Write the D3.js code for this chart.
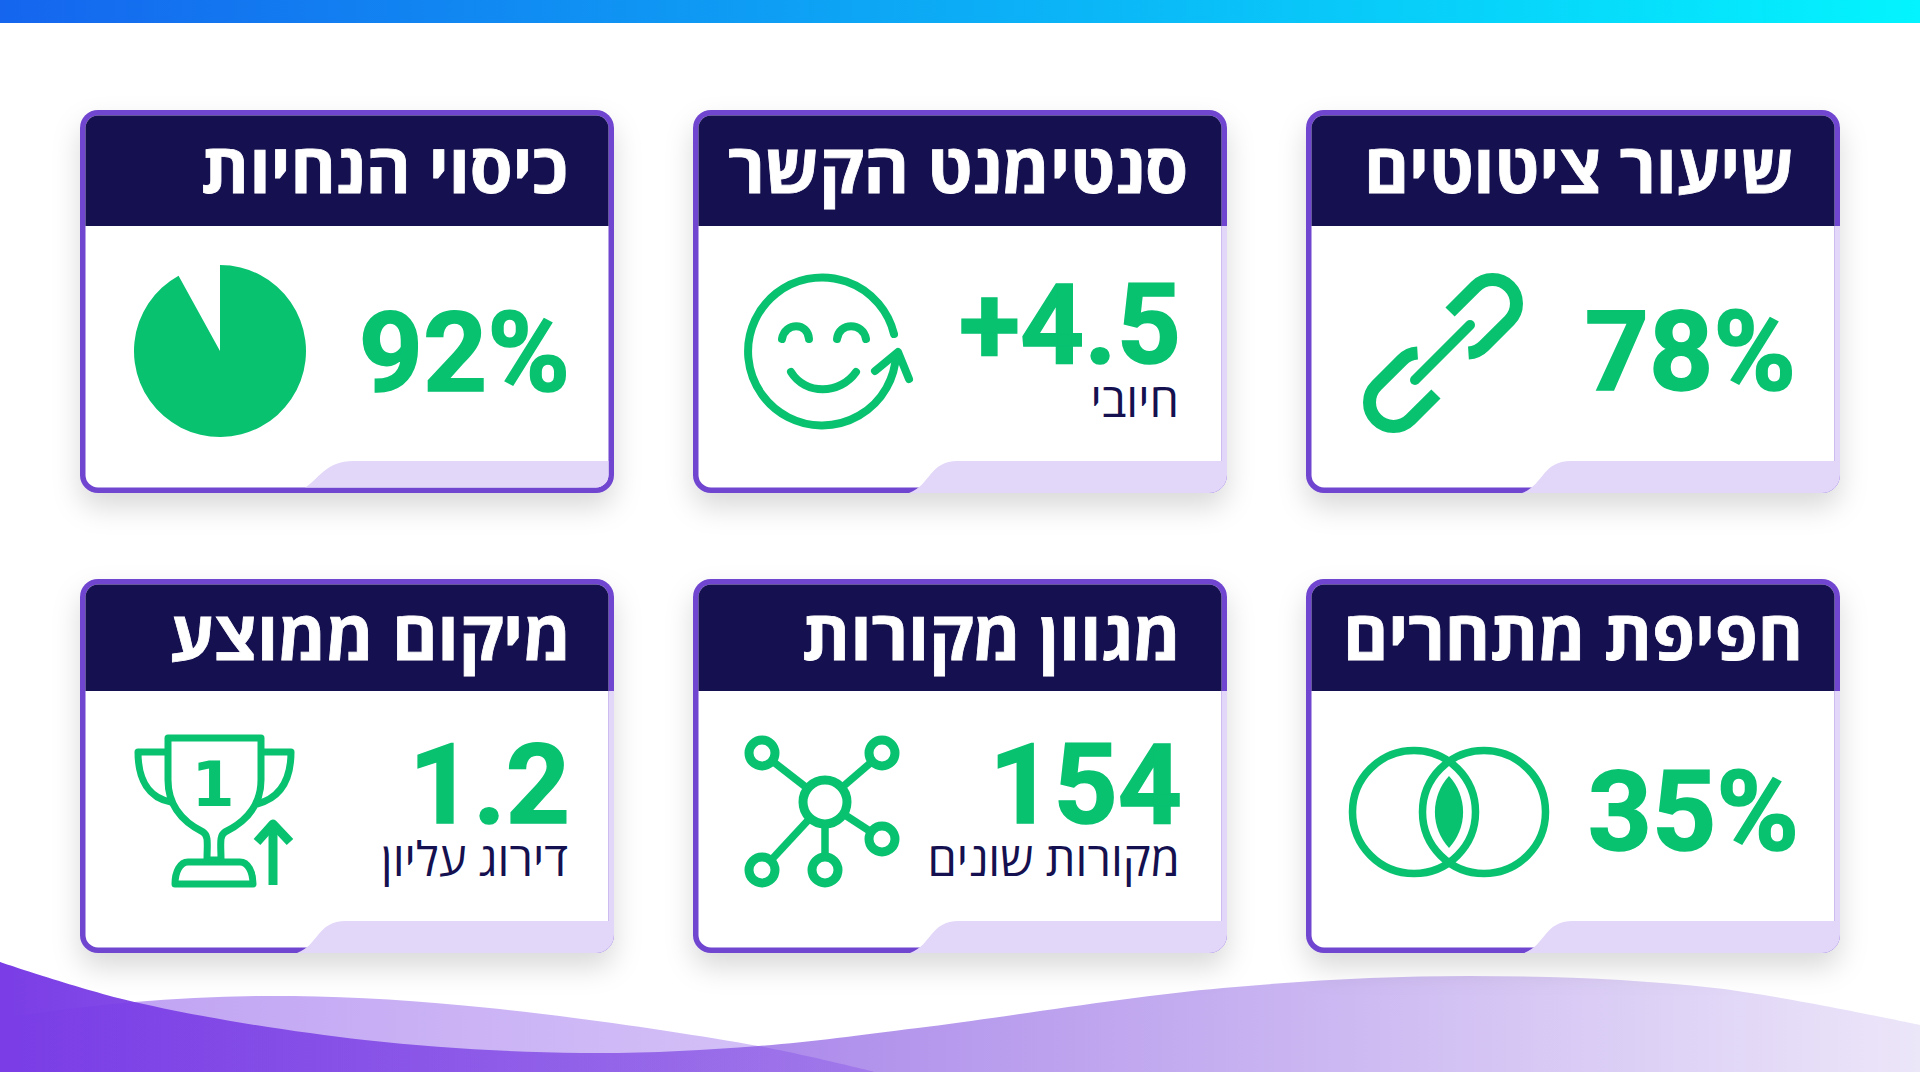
<!DOCTYPE html>
<html lang="he">
<head>
<meta charset="utf-8">
<script src="https://cdn.jsdelivr.net/npm/d3@7"></script>
<style>
  html, body { margin: 0; padding: 0; background: #fff; }
  svg { display: block; }
</style>
</head>
<body>
<div id="chart"></div>
<script>
// values, right to left, top row first
const titles = ["שיעור ציטוטים", "סנטימנט הקשר", "כיסוי הנחיות", "חפיפת מתחרים", "מגוון מקורות", "מיקום ממוצע"];
const valueLabels = ["78%", "+4.5", "92%", "35%", "154", "1.2"];
const subLabels = ["", "חיובי", "", "", "מקורות שונים", "דירוג עליון"];
const coverage = [92, 8];
const iconNames = ["chain", "smile", "pie", "venn", "network", "trophy"];

// layout
const width = 1920, height = 1072;
const green = "#08c270", navy = "#15104f", purple = "#6f44cf", lavender = "#e2d6f9";
const colX = [1306, 693, 80], cardW = 534;
const rows = [
  { y: 110, h: 383, head: 116, titleY: 83, notch: 351 },
  { y: 579, h: 374, head: 112, titleY: 81, notch: 342 }
];
const border = 5.5, radius = 18;
const titleWidths = [430, 460, 367, 460, 379, 401];
const titleRight = [488, 495, 488, 497, 488, 491];
const valueRight = [490, 488, 490, 493, 489, 490];
const valueBase = [280, 253, 281, 271, 244, 244];
const subBase = [0, 307, 0, 0, 297, 297];
const notchBottom = [216, 216, 225, 218, 217, 217];
const iconPos = [[137, 243], [130, 239], [140, 241], [143, 233], [132, 223], [135, 231]];

const svg = d3.select("#chart").append("svg")
  .attr("width", width).attr("height", height);

const defs = svg.append("defs");

function hGradient(id, stops) {
  const g = defs.append("linearGradient").attr("id", id)
    .attr("x1", "0").attr("x2", "1").attr("y1", "0").attr("y2", "0");
  stops.forEach(function (s) {
    g.append("stop").attr("offset", s[0]).attr("stop-color", s[1]).attr("stop-opacity", s[2]);
  });
}
hGradient("topBar", [[0, "#1565ee", 1], [1, "#03f4fe", 1]]);
hGradient("waveFront", [[0, "#7a3de6", 1], [0.45, "#b293ec", 1], [1, "#ece6f9", 1]]);
hGradient("waveBack", [[0, "#7a3de6", 0.5], [1, "#7a3de6", 0.3]]);

const shadow = defs.append("filter").attr("id", "cardShadow")
  .attr("x", "-15%").attr("y", "-15%").attr("width", "130%").attr("height", "140%");
shadow.append("feDropShadow").attr("dx", 0).attr("dy", 14).attr("stdDeviation", 14)
  .attr("flood-color", "#000").attr("flood-opacity", 0.15);

svg.append("rect").attr("width", width).attr("height", 23).attr("fill", "url(#topBar)");

// bottom waves
const waveX = d3.scaleLinear().domain([0, 1]).range([0, width]);
const frontCurve = [[0, 962], [0.07, 1002], [0.19, 1040], [0.303, 1053], [0.395, 1046], [0.478, 1028],
  [0.637, 988], [0.765, 976], [0.893, 988], [1, 1025]];
const backCurve = [[0, 1018], [0.07, 1002], [0.153, 996], [0.255, 1008], [0.395, 1046], [0.456, 1072]];

function waveArea(fill, pts) {
  const area = d3.area().curve(d3.curveCatmullRom)
    .x(function (d) { return waveX(d[0]); })
    .y0(height)
    .y1(function (d) { return d[1]; });
  svg.append("path").attr("d", area(pts)).attr("fill", fill);
}
waveArea("url(#waveFront)", frontCurve);
waveArea("url(#waveBack)", backCurve);

// icons, each drawn around its own centre
const icons = {
  pie: function (g) {
    const pie = d3.pie().sort(null);
    const arc = d3.arc().innerRadius(0).outerRadius(86);
    g.append("path").attr("d", arc(pie(coverage)[0])).attr("fill", green);
  },
  smile: function (g) {
    const s = g.append("g").attr("fill", "none").attr("stroke", green)
      .attr("stroke-width", 8).attr("stroke-linecap", "round").attr("stroke-linejoin", "round");
    s.append("path").attr("d", "M71,-15 A74,74 0 1 0 73,6");
    s.append("path").attr("d", "M52,22 L75,3 L86,30");
    s.append("path").attr("d", "M-41,-10 C-38,-27 -15,-27 -14,-10");
    s.append("path").attr("d", "M14,-10 C16,-27 40,-27 43,-10");
    s.append("path").attr("d", "M-32,23 C-18,46 17,46 33,23");
  },
  chain: function (g) {
    const s = g.append("g").attr("fill", "none").attr("stroke", green).attr("stroke-width", 13);
    const link = "M-24,-24 H12 A24,24 0 0 1 12,24 H-24 A24,24 0 0 1 -40,18";
    s.append("path").attr("d", link).attr("transform", "translate(41,-41) rotate(-45)");
    s.append("path").attr("d", link).attr("transform", "translate(-41,41) rotate(135)");
    s.append("path").attr("d", "M-28,27 L27,-28").attr("stroke-width", 10).attr("stroke-linecap", "round");
  },
  venn: function (g) {
    const s = g.append("g").attr("fill", "none").attr("stroke", green).attr("stroke-width", 7.5);
    s.append("circle").attr("cx", -35).attr("r", 61.5);
    s.append("circle").attr("cx", 35).attr("r", 61.5);
    g.append("path").attr("d", "M0,-36 A53,53 0 0 1 0,36 A53,53 0 0 1 0,-36 Z").attr("fill", green);
  },
  network: function (g) {
    const s = g.append("g").attr("stroke", green).attr("fill", "#fff");
    const sats = [[-63, -49], [57, -49], [57, 37], [-63, 68], [0, 68]];
    s.selectAll("line").data(sats).enter().append("line")
      .attr("x1", 0).attr("y1", 0)
      .attr("x2", function (d) { return d[0]; }).attr("y2", function (d) { return d[1]; })
      .attr("stroke-width", 7.5);
    s.selectAll("circle.sat").data(sats).enter().append("circle").attr("class", "sat")
      .attr("cx", function (d) { return d[0]; }).attr("cy", function (d) { return d[1]; })
      .attr("r", 13).attr("stroke-width", 9);
    s.append("circle").attr("r", 22).attr("stroke-width", 9);
  },
  trophy: function (g) {
    const s = g.append("g").attr("fill", "none").attr("stroke", green)
      .attr("stroke-width", 7).attr("stroke-linejoin", "round");
    s.append("path").attr("d", "M-47,-72 H46 V-30 C46,-4 30,12 10,22 C4,26 6,34 6,50 H-8 C-8,34 -6,26 -12,22 C-32,12 -47,-4 -47,-30 Z");
    s.append("path").attr("d", "M-47,-58 H-77 C-77,-30 -66,-12 -44,-8");
    s.append("path").attr("d", "M46,-58 H76 C76,-30 65,-12 42,-6");
    s.append("path").attr("d", "M-27,52 H25 C33,52 38,62 38,74 H-40 C-40,62 -35,52 -27,52 Z");
    s.append("path").attr("d", "M58,75 V13").attr("stroke-width", 9);
    s.append("path").attr("d", "M42,32 L58,14 L75,32").attr("stroke-width", 9);
    g.append("text").attr("x", -2).attr("y", -4).attr("text-anchor", "middle")
      .attr("font-family", "DejaVu Sans").attr("font-weight", 700).attr("font-size", 62)
      .attr("fill", green).text("1");
  }
};

const cards = svg.selectAll("g.card").data(titles).enter().append("g")
  .attr("class", "card")
  .attr("transform", function (d, i) {
    return "translate(" + colX[i % 3] + "," + rows[Math.floor(i / 3)].y + ")";
  });

cards.each(function (title, i) {
  const g = d3.select(this);
  const row = rows[Math.floor(i / 3)];
  const h = row.h, inner = radius - border;
  const keepBorder = i === 2; // only this card keeps the purple edge round the tab

  g.append("rect").attr("width", cardW).attr("height", h).attr("rx", radius)
    .attr("fill", purple).attr("filter", "url(#cardShadow)");
  g.append("rect").attr("x", border).attr("y", border)
    .attr("width", cardW - 2 * border).attr("height", h - 2 * border).attr("rx", inner)
    .attr("fill", "#fff");

  const right = cardW - border;
  g.append("path").attr("fill", navy).attr("d",
    "M" + border + "," + row.head + " V" + (border + inner) +
    " A" + inner + "," + inner + " 0 0 1 " + (border + inner) + "," + border +
    " H" + (right - inner) +
    " A" + inner + "," + inner + " 0 0 1 " + right + "," + (border + inner) +
    " V" + row.head + " Z");

  // lavender tab in the lower corner
  const nb = notchBottom[i], nt = nb + 43, ny = row.notch;
  const tab = keepBorder
    ? "M" + nb + "," + (h - border) + " C" + (nb + 14) + "," + (h - border - 8) + " " + (nb + 20) + "," + ny + " " + (nt + 6) + "," + ny +
      " H" + right + " V" + (h - border - inner) +
      " A" + inner + "," + inner + " 0 0 1 " + (right - inner) + "," + (h - border) + " Z"
    : "M" + nb + "," + h + " C" + (nb + 22) + "," + (h - 8) + " " + (nb + 20) + "," + ny + " " + (nt + 6) + "," + ny +
      " H" + right + " V" + row.head + " H" + cardW + " V" + (h - radius) +
      " A" + radius + "," + radius + " 0 0 1 " + (cardW - radius) + "," + h + " Z";
  g.append("path").attr("d", tab).attr("fill", lavender);

  g.append("text").attr("x", titleRight[i]).attr("y", row.titleY)
    .attr("text-anchor", "end")
    .attr("font-family", "Open Sans").attr("font-weight", 700).attr("font-size", 68)
    .attr("fill", "#fff").attr("stroke", "#fff").attr("stroke-width", 0.8)
    .attr("textLength", titleWidths[i]).attr("lengthAdjust", "spacingAndGlyphs")
    .text(title);

  g.append("text").attr("x", valueRight[i]).attr("y", valueBase[i])
    .attr("text-anchor", "end").attr("direction", "ltr")
    .attr("font-family", "Roboto").attr("font-weight", 700).attr("font-size", 112)
    .attr("fill", green).attr("stroke", green).attr("stroke-width", 1.5)
    .text(valueLabels[i]);

  if (subLabels[i]) {
    g.append("text").attr("x", valueRight[i] - 2).attr("y", subBase[i])
      .attr("text-anchor", "end")
      .attr("font-family", "Open Sans").attr("font-weight", 400).attr("font-size", 47)
      .attr("fill", navy)
      .text(subLabels[i]);
  }

  const icon = g.append("g").attr("transform", "translate(" + iconPos[i][0] + "," + iconPos[i][1] + ")");
  icons[iconNames[i]](icon);
});
</script>
</body>
</html>
